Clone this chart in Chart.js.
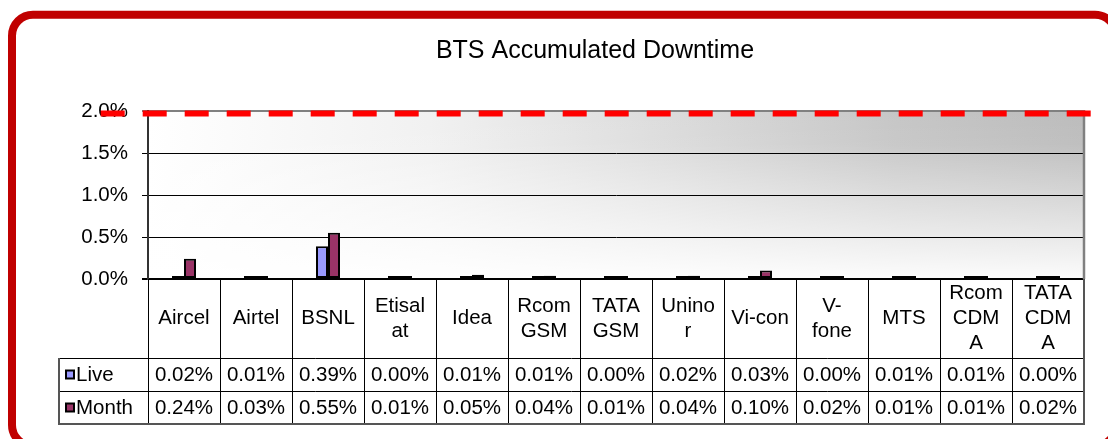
<!DOCTYPE html>
<html>
<head>
<meta charset="utf-8">
<title>BTS Accumulated Downtime</title>
<script src="https://cdn.jsdelivr.net/npm/chart.js@4.4.1/dist/chart.umd.min.js"></script>
<style>
  html, body { margin: 0; padding: 0; background: #fff; }
  #wrap { width: 1108px; height: 439px; }
</style>
</head>
<body>
<div id="wrap"><canvas id="downtimeChart" width="1108" height="439"></canvas></div>
<script>
const chartTitle = "BTS Accumulated Downtime";
// category names, split the way the data table wraps them
const operators = [
  ["Aircel"], ["Airtel"], ["BSNL"], ["Etisal", "at"], ["Idea"], ["Rcom", "GSM"],
  ["TATA", "GSM"], ["Unino", "r"], ["Vi-con"], ["V-", "fone"], ["MTS"],
  ["Rcom", "CDM", "A"], ["TATA", "CDM", "A"],
];
const seriesNames = ["Live", "Month"];
const liveValues = [0.02, 0.01, 0.39, 0.00, 0.01, 0.01, 0.00, 0.02, 0.03, 0.00, 0.01, 0.01, 0.00];
const monthValues = [0.24, 0.03, 0.55, 0.01, 0.05, 0.04, 0.01, 0.04, 0.10, 0.02, 0.01, 0.01, 0.02];
const yTicks = [0, 0.5, 1.0, 1.5, 2.0];
const limitValue = 2.0;

const FONT = '"Liberation Sans", Arial, sans-serif';
const seriesColors = ["#9999ff", "#993366"];

// white page, rounded red frame and the grey shaded plot area
const backdrop = {
  id: "backdrop",
  beforeDraw(chart) {
    const { ctx, chartArea: a } = chart;
    ctx.save();
    ctx.fillStyle = "#fff";
    ctx.fillRect(0, 0, chart.width, chart.height);

    const h = ctx.createLinearGradient(a.left, 0, a.right, 0);
    h.addColorStop(0, "#ffffff");
    h.addColorStop(0.3, "#f1f1f1");
    h.addColorStop(0.55, "#dcdcdc");
    h.addColorStop(0.8, "#c6c6c6");
    h.addColorStop(1, "#bcbcbc");
    ctx.fillStyle = h;
    ctx.fillRect(a.left, a.top, a.width, a.height);

    const v = ctx.createLinearGradient(0, a.top, 0, a.bottom);
    v.addColorStop(0, "rgba(255,255,255,0)");
    v.addColorStop(0.2, "rgba(255,255,255,0.05)");
    v.addColorStop(1, "rgba(255,255,255,0.95)");
    ctx.fillStyle = v;
    ctx.fillRect(a.left, a.top, a.width, a.height);

    // frame (right and bottom edges run just past the page)
    const l = 12, t = 14.7, r = 1116, b = 446, rad = 21;
    ctx.beginPath();
    ctx.moveTo(l + rad, t);
    ctx.lineTo(r - rad, t);
    ctx.arcTo(r, t, r, t + rad, rad);
    ctx.lineTo(r, b - rad);
    ctx.arcTo(r, b, r - rad, b, rad);
    ctx.lineTo(l + rad, b);
    ctx.arcTo(l, b, l, b - rad, rad);
    ctx.lineTo(l, t + rad);
    ctx.arcTo(l, t, l + rad, t, rad);
    ctx.closePath();
    ctx.lineWidth = 8;
    ctx.strokeStyle = "#c00000";
    ctx.stroke();
    ctx.restore();
  },
};

// title, limit line and the data table under the plot
const overlay = {
  id: "overlay",
  afterDraw(chart) {
    const { ctx, chartArea: a, scales: { x, y } } = chart;
    ctx.save();

    ctx.fillStyle = "#000";
    ctx.font = `25px ${FONT}`;
    ctx.textAlign = "center";
    ctx.textBaseline = "middle";
    ctx.fillText(chartTitle, 595, 51);

    // right edge of plot area
    const headBottom = a.bottom + 79;
    const rowH = 33;
    const tableBottom = headBottom + rowH * seriesNames.length;
    ctx.strokeStyle = "#808080";
    ctx.lineWidth = 2.5;
    ctx.beginPath();
    ctx.moveTo(a.right, a.top - 1);
    ctx.lineTo(a.right, a.bottom);
    ctx.stroke();

    // table grid
    const n = operators.length;
    const colW = (x.right - x.left) / n;
    const tableLeft = 59;
    ctx.strokeStyle = "#000";
    ctx.lineWidth = 1;
    ctx.beginPath();
    for (let i = 0; i <= n; i++) {
      const cx = Math.round(x.left + i * colW) + 0.5;
      ctx.moveTo(cx, a.bottom);
      ctx.lineTo(cx, tableBottom);
    }
    for (let r = 0; r < seriesNames.length; r++) {
      const ry = headBottom + r * rowH + 0.5;
      ctx.moveTo(tableLeft, ry);
      ctx.lineTo(x.right, ry);
    }
    ctx.stroke();
    ctx.strokeStyle = "#555";
    ctx.lineWidth = 2;
    ctx.beginPath();
    ctx.moveTo(tableLeft, headBottom);
    ctx.lineTo(tableLeft, tableBottom);
    ctx.lineTo(x.right, tableBottom);
    ctx.lineTo(x.right, a.bottom);
    ctx.stroke();

    // header labels
    ctx.fillStyle = "#000";
    ctx.font = `20.5px ${FONT}`;
    ctx.textAlign = "center";
    ctx.textBaseline = "middle";
    const headMid = (a.bottom + headBottom) / 2;
    operators.forEach((lines, i) => {
      const cx = x.getPixelForValue(i);
      lines.forEach((txt, k) => {
        ctx.fillText(txt, cx, headMid + (k - (lines.length - 1) / 2) * 25);
      });
    });

    // value rows with legend keys
    [liveValues, monthValues].forEach((vals, r) => {
      const ry = headBottom + r * rowH + rowH / 2 + 1;
      ctx.fillStyle = seriesColors[r];
      ctx.fillRect(66, ry - 5, 8, 8);
      ctx.strokeStyle = "#000";
      ctx.lineWidth = 2;
      ctx.strokeRect(66, ry - 5, 8, 8);
      ctx.fillStyle = "#000";
      ctx.textAlign = "left";
      ctx.fillText(seriesNames[r], 76, ry);
      ctx.textAlign = "center";
      vals.forEach((v, i) => {
        ctx.fillText(v.toFixed(2) + "%", x.getPixelForValue(i), ry);
      });
    });

    // 2% limit line
    const ly = y.getPixelForValue(limitValue) + 2.5;
    ctx.strokeStyle = "#ff0000";
    ctx.lineWidth = 6;
    ctx.setLineDash([24, 18]);
    ctx.beginPath();
    ctx.moveTo(100.7, ly);
    ctx.lineTo(1090.7, ly);
    ctx.stroke();
    ctx.restore();
  },
};

const ctx = document.getElementById("downtimeChart").getContext("2d");

new Chart(ctx, {
  type: "bar",
  data: {
    labels: operators,
    datasets: seriesNames.map((name, i) => ({
      label: name,
      data: i === 0 ? liveValues : monthValues,
      backgroundColor: seriesColors[i],
      borderColor: "#000",
      borderWidth: 2,
      borderSkipped: false,
      minBarLength: 3,
      categoryPercentage: 1 / 3,
      barPercentage: 1,
    })),
  },
  options: {
    responsive: false,
    animation: false,
    layout: { padding: { left: 0, right: 24, top: 111, bottom: 160 } },
    plugins: {
      legend: { display: false },
      title: { display: false },
      tooltip: { enabled: false },
    },
    scales: {
      x: { display: false },
      y: {
        min: 0,
        max: 2,
        afterBuildTicks: (s) => { s.ticks = yTicks.map((v) => ({ value: v })); },
        afterFit: (s) => { s.width = 148; },
        ticks: {
          color: "#000",
          padding: 14,
          font: { family: FONT, size: 20.5 },
          callback: (value) => value.toFixed(1) + "%",
        },
        grid: {
          color: (c) => (c.tick && c.tick.value === 2 ? "#808080" : "#000"),
          lineWidth: (c) => (c.tick && (c.tick.value === 0 || c.tick.value === 2) ? 2 : 1),
          tickLength: 6,
        },
        border: { color: "#333", width: 2 },
      },
    },
  },
  plugins: [backdrop, overlay],
});
</script>
</body>
</html>
